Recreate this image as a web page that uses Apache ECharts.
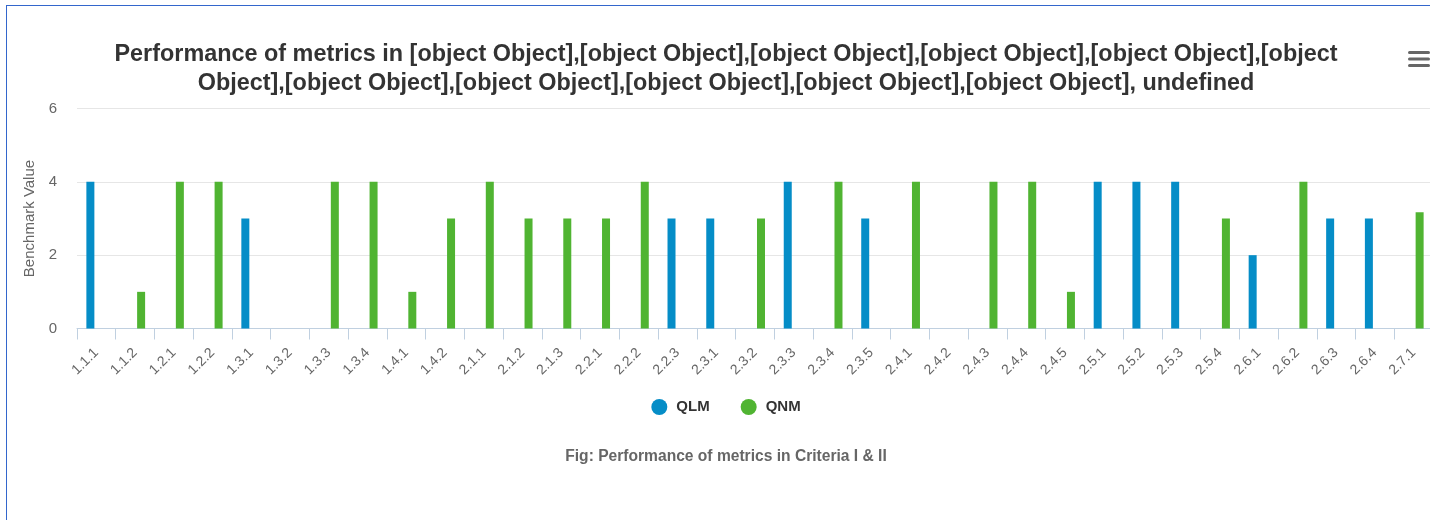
<!DOCTYPE html>
<html>
<head>
<meta charset="utf-8">
<script src="https://cdn.jsdelivr.net/npm/echarts@6/dist/echarts.min.js"></script>
<style>
  html, body { margin: 0; padding: 0; width: 1430px; height: 520px; overflow: hidden; background: #fff; }
  #chart { position: absolute; left: 0; top: 0; width: 1452px; height: 520px; }
  #frame { position: absolute; left: 6px; top: 5px; width: 2000px; height: 1000px;
           border-left: 1px solid #3366cc; border-top: 1px solid #3366cc; pointer-events: none; z-index: 5; }
</style>
</head>
<body>
<div id="chart"></div>
<div id="frame"></div>
<script>
const categories = ['1.1.1','1.1.2','1.2.1','1.2.2','1.3.1','1.3.2','1.3.3','1.3.4','1.4.1','1.4.2',
  '2.1.1','2.1.2','2.1.3','2.2.1','2.2.2','2.2.3','2.3.1','2.3.2','2.3.3','2.3.4','2.3.5',
  '2.4.1','2.4.2','2.4.3','2.4.4','2.4.5','2.5.1','2.5.2','2.5.3','2.5.4','2.6.1','2.6.2',
  '2.6.3','2.6.4','2.7.1'];
const qlmValues = [4,null,null,null,3,null,null,null,null,null,
  null,null,null,null,null,3,3,null,4,null,3,
  null,null,null,null,null,4,4,4,null,2,null,
  3,3,null];
const qnmValues = [null,1,4,4,null,null,4,4,1,3,
  4,3,3,3,4,null,null,3,null,4,null,
  4,null,4,4,1,null,null,null,3,null,4,
  null,null,3.17];
const seriesNames = ['QLM','QNM'];
const yTicks = [0,2,4,6];
const titleLines = [
  'Performance of metrics in [object Object],[object Object],[object Object],[object Object],[object Object],[object',
  'Object],[object Object],[object Object],[object Object],[object Object],[object Object], undefined'
];
const yAxisTitle = 'Benchmark Value';
const captionText = 'Fig: Performance of metrics in Criteria I & II';

const chart = echarts.init(document.getElementById('chart'), null, { renderer: 'canvas' });
const FONT = '"Liberation Sans", Arial, Helvetica, sans-serif';

chart.setOption({
  animation: false,
  backgroundColor: '#ffffff',
  color: ['#058DC7', '#50B432'],
  title: {
    text: titleLines.join('\n'),
    left: 726,
    top: 40,
    textAlign: 'center',
    padding: 0,
    textStyle: { fontFamily: FONT, fontSize: 23.4, fontWeight: 'bold', color: '#333333', lineHeight: 29, align: 'center' }
  },
  legend: {
    data: seriesNames,
    left: 'center',
    top: 394,
    icon: 'circle',
    itemWidth: 16,
    itemHeight: 16,
    itemGap: 31,
    textStyle: { fontFamily: FONT, fontSize: 15, fontWeight: 'bold', color: '#333333', padding: [0, 0, 0, 4] }
  },
  grid: { left: 77, right: 19, top: 108.5, bottom: 191.5, containLabel: false },
  xAxis: {
    type: 'category',
    data: categories,
    axisLine: { lineStyle: { color: '#C0D0E0', width: 1 } },
    axisTick: { show: true, length: 11, lineStyle: { color: '#C0D0E0' } },
    axisLabel: { rotate: 45, interval: 0, margin: 22, fontFamily: FONT, fontSize: 14, color: '#666666' },
    splitLine: { show: false }
  },
  yAxis: {
    type: 'value',
    min: yTicks[0],
    max: yTicks[yTicks.length - 1],
    interval: 2,
    name: yAxisTitle,
    nameLocation: 'middle',
    nameGap: 35,
    nameRotate: 90,
    nameTextStyle: { fontFamily: FONT, fontSize: 15, color: '#666666' },
    axisLine: { show: false },
    axisTick: { show: false },
    axisLabel: { margin: 20, fontFamily: FONT, fontSize: 15, color: '#666666' },
    splitLine: { lineStyle: { color: '#E6E6E6', width: 1 } }
  },
  series: [
    { name: seriesNames[0], type: 'bar', data: qlmValues, barWidth: 8, barGap: '50%' },
    { name: seriesNames[1], type: 'bar', data: qnmValues, barWidth: 8, barGap: '50%' }
  ],
  graphic: [
    {
      type: 'text',
      left: 'center',
      top: 449,
      style: { text: captionText, font: 'bold 15.6px ' + FONT, fill: '#666666', textAlign: 'center' }
    },
    {
      type: 'group',
      left: 1408,
      top: 51,
      children: [
        { type: 'rect', shape: { x: 0, y: 0, width: 22, height: 3, r: 1.5 }, style: { fill: '#666666' } },
        { type: 'rect', shape: { x: 0, y: 6.5, width: 22, height: 3, r: 1.5 }, style: { fill: '#666666' } },
        { type: 'rect', shape: { x: 0, y: 13, width: 22, height: 3, r: 1.5 }, style: { fill: '#666666' } }
      ]
    }
  ]
});
</script>
</body>
</html>
